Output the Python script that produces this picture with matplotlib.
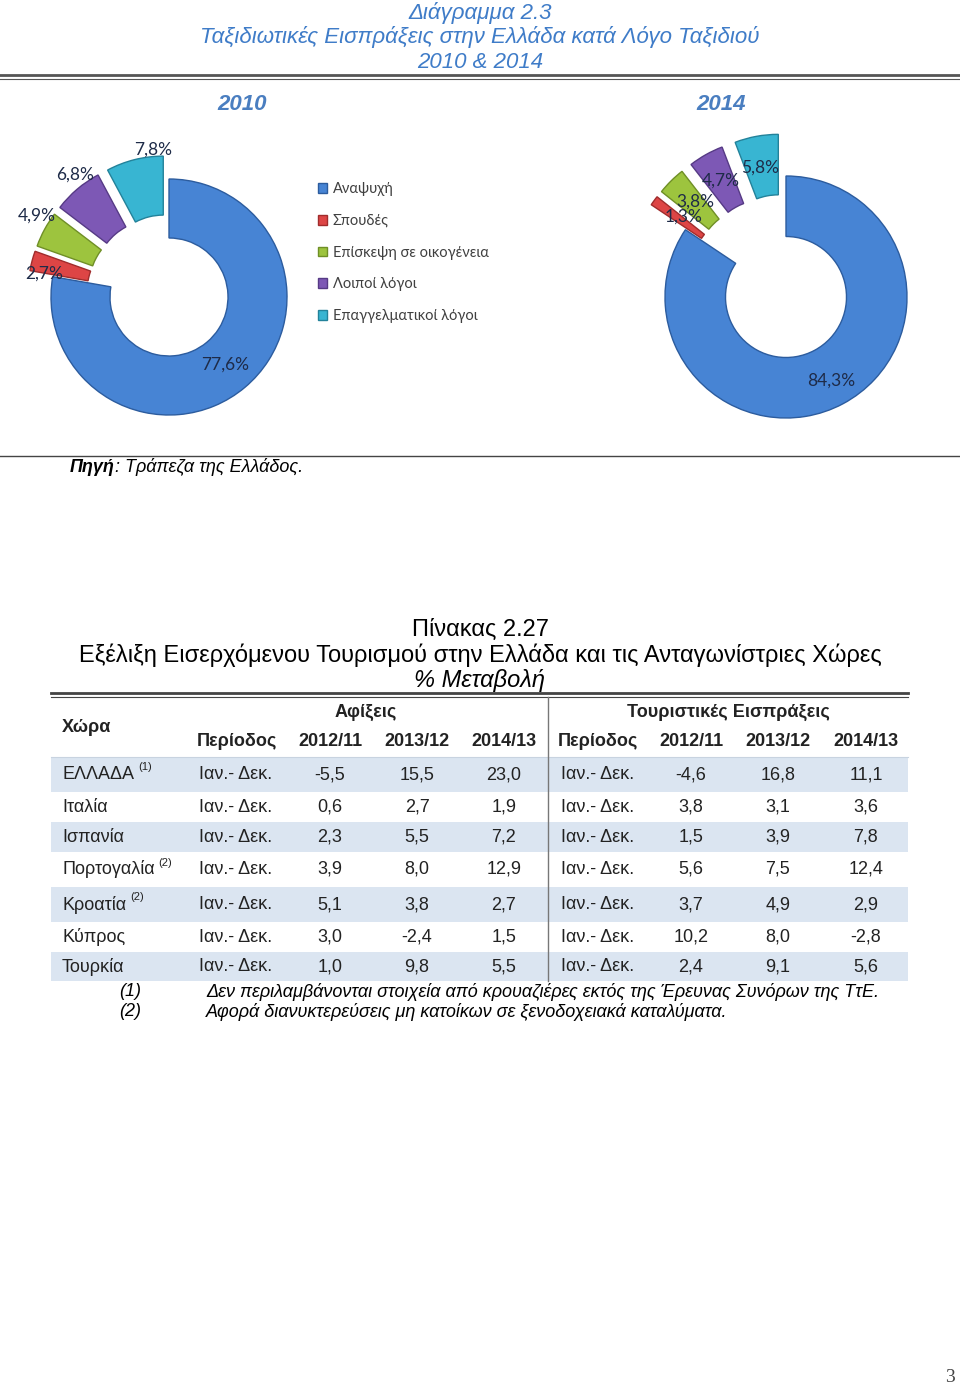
import matplotlib
matplotlib.use("Agg")
import matplotlib.pyplot as plt
import numpy as np
from matplotlib.patches import Rectangle

plt.rcParams['font.family'] = ['Liberation Sans', 'DejaVu Sans']

# --- data ---
reasons = ["Αναψυχή", "Σπουδές", "Επίσκεψη σε οικογένεια", "Λοιποί λόγοι", "Επαγγελματικοί λόγοι"]
share_2010 = [77.6, 2.7, 4.9, 6.8, 7.8]
share_2014 = [84.3, 1.3, 3.8, 4.7, 5.8]

countries = ["ΕΛΛΑΔΑ", "Ιταλία", "Ισπανία", "Πορτογαλία", "Κροατία", "Κύπρος", "Τουρκία"]
country_notes = ["(1)", "", "", "(2)", "(2)", "", ""]
period = "Ιαν.- Δεκ."
years = ["2012/11", "2013/12", "2014/13"]
arrivals = [[-5.5, 15.5, 23.0], [0.6, 2.7, 1.9], [2.3, 5.5, 7.2], [3.9, 8.0, 12.9],
            [5.1, 3.8, 2.7], [3.0, -2.4, 1.5], [1.0, 9.8, 5.5]]
receipts = [[-4.6, 16.8, 11.1], [3.8, 3.1, 3.6], [1.5, 3.9, 7.8], [5.6, 7.5, 12.4],
            [3.7, 4.9, 2.9], [10.2, 8.0, -2.8], [2.4, 9.1, 5.6]]
footnotes = [("(1)", "Δεν περιλαμβάνονται στοιχεία από κρουαζιέρες εκτός της Έρευνας Συνόρων της ΤτΕ."),
             ("(2)", "Αφορά διανυκτερεύσεις μη κατοίκων σε ξενοδοχειακά καταλύματα.")]

colors = ["#4784d4", "#dd4545", "#9dc43e", "#7d58b5", "#38b5d2"]
edges = ["#2c5c9e", "#a02c2c", "#6f8f26", "#563a85", "#23829a"]

W, H = 960, 1387
fig = plt.figure(figsize=(9.6, 13.87), dpi=100)
page = fig.add_axes([0, 0, 1, 1])
page.set_xlim(0, W)
page.set_ylim(H, 0)
page.axis("off")


def fmt(v):
    return f"{v:.1f}".replace(".", ",")


def donut(cx, cy, R, values, expl, label_r, label_dth):
    S = 175
    ax = fig.add_axes([(cx - S) / W, 1 - (cy + S) / H, 2 * S / W, 2 * S / H])
    wedges, _ = ax.pie(values, colors=colors, startangle=90, counterclock=False,
                       explode=[0] + [expl] * (len(values) - 1),
                       wedgeprops=dict(width=0.5, linewidth=1.0))
    for w, e in zip(wedges, edges):
        w.set_edgecolor(e)
    ax.set_xlim(-S / R, S / R)
    ax.set_ylim(-S / R, S / R)
    for w, v, r, d in zip(wedges, values, label_r, label_dth):
        th = np.deg2rad((w.theta1 + w.theta2) / 2 + d)
        ax.text(r / R * np.cos(th), r / R * np.sin(th), fmt(v) + "%", ha="center", va="center",
                fontsize=12.5, family=["Lato", "DejaVu Sans"], color="#1e2b48", zorder=5)
    return wedges


w10 = donut(169, 297, 118, share_2010, 0.2, [88, 127, 155, 154, 148], [0, 4, -3, -3, -8])
w14 = donut(786, 297, 121, share_2014, 0.35, [95, 130, 132, 133, 132], [0, -2, -1, 0, 1])

page.legend(w10, reasons, loc="upper left", bbox_to_anchor=(318 / W, 1 - 182 / H),
            bbox_transform=fig.transFigure, frameon=False,
            prop={"family": ["Lato", "DejaVu Sans"], "size": 10.5},
            handlelength=0.65, handleheight=0.65, handletextpad=0.35,
            labelspacing=1.22, borderpad=0, borderaxespad=0, labelcolor="#404040")

# --- chart titles ---
blue = "#3f7cc8"
for y, s in zip([13, 37, 62], ["Διάγραμμα 2.3", "Ταξιδιωτικές Εισπράξεις στην Ελλάδα κατά Λόγο Ταξιδιού",
                               "2010 & 2014"]):
    page.text(480, y, s, ha="center", va="center", fontsize=16, style="italic", color=blue)
page.plot([0, W], [75, 75], color="#555555", lw=2)
page.plot([0, W], [78.5, 78.5], color="#555555", lw=0.8)
page.text(242, 104, "2010", ha="center", va="center", fontsize=16, style="italic", weight="bold", color="#4a7ec0")
page.text(721, 104, "2014", ha="center", va="center", fontsize=16, style="italic", weight="bold", color="#4a7ec0")

page.plot([0, W], [456, 456], color="#444444", lw=1)
fig.canvas.draw()
rend = fig.canvas.get_renderer()
t = page.text(70, 467, "Πηγή", ha="left", va="center", fontsize=13, style="italic", weight="bold")
x1 = t.get_window_extent(rend).x1
page.text(x1, 467, ": Τράπεζα της Ελλάδος.", ha="left", va="center", fontsize=13, style="italic")

# --- table ---
page.text(480, 630, "Πίνακας 2.27", ha="center", va="center", fontsize=17)
page.text(480, 655, "Εξέλιξη Εισερχόμενου Τουρισμού στην Ελλάδα και τις Ανταγωνίστριες Χώρες",
          ha="center", va="center", fontsize=17)
page.text(480, 680, "% Μεταβολή", ha="center", va="center", fontsize=17, style="italic")

tx0, tx1 = 51, 908
page.plot([tx0, tx1], [693, 693], color="#444444", lw=2)
page.plot([tx0, tx1], [697, 697], color="#444444", lw=0.8)

rows = [757, 792, 822, 852, 887, 922, 952, 981]
for i in range(len(countries)):
    if i % 2 == 0:
        page.add_patch(Rectangle((tx0, rows[i]), tx1 - tx0, rows[i + 1] - rows[i],
                                 facecolor="#dbe5f1", edgecolor="none"))
page.plot([tx0, tx1], [757, 757], color="#c8d3e0", lw=0.8)
page.plot([548, 548], [697, rows[-1]], color="#777777", lw=1)

fs = 13
ink = "#222222"
page.text(62, 727, "Χώρα", ha="left", va="center", fontsize=fs, weight="bold", color=ink)
page.text(366, 712, "Αφίξεις", ha="center", va="center", fontsize=fs, weight="bold", color=ink)
page.text(728, 712, "Τουριστικές Εισπράξεις", ha="center", va="center", fontsize=fs, weight="bold", color=ink)
per_cx = [237, 598]
per_x = [199, 561]
col_cx = [[330, 417, 504], [691, 778, 866]]
for k in range(2):
    page.text(per_cx[k], 742, "Περίοδος", ha="center", va="center", fontsize=fs, weight="bold", color=ink)
    for j, y in enumerate(years):
        page.text(col_cx[k][j], 742, y, ha="center", va="center", fontsize=fs, weight="bold", color=ink)

for i, c in enumerate(countries):
    yc = (rows[i] + rows[i + 1]) / 2
    t = page.text(62, yc, c, ha="left", va="center", fontsize=fs, color=ink)
    if country_notes[i]:
        x1 = t.get_window_extent(rend).x1
        page.text(x1 + 4, yc - 7, country_notes[i], ha="left", va="center", fontsize=8, color=ink)
    for k, vals in enumerate([arrivals[i], receipts[i]]):
        page.text(per_x[k], yc, period, ha="left", va="center", fontsize=fs, color=ink)
        for j, v in enumerate(vals):
            page.text(col_cx[k][j], yc, fmt(v), ha="center", va="center", fontsize=fs, color=ink)

for n, (mark, note) in enumerate(footnotes):
    y = 992 + 20 * n
    page.text(130, y, mark, ha="center", va="center", fontsize=13, style="italic")
    page.text(206, y, note, ha="left", va="center", fontsize=13, style="italic")

page.text(950, 1378, "3", ha="center", va="center", fontsize=14, family=["Liberation Serif", "DejaVu Serif"],
          color="#444444")

fig.savefig("out.png", dpi=100)
